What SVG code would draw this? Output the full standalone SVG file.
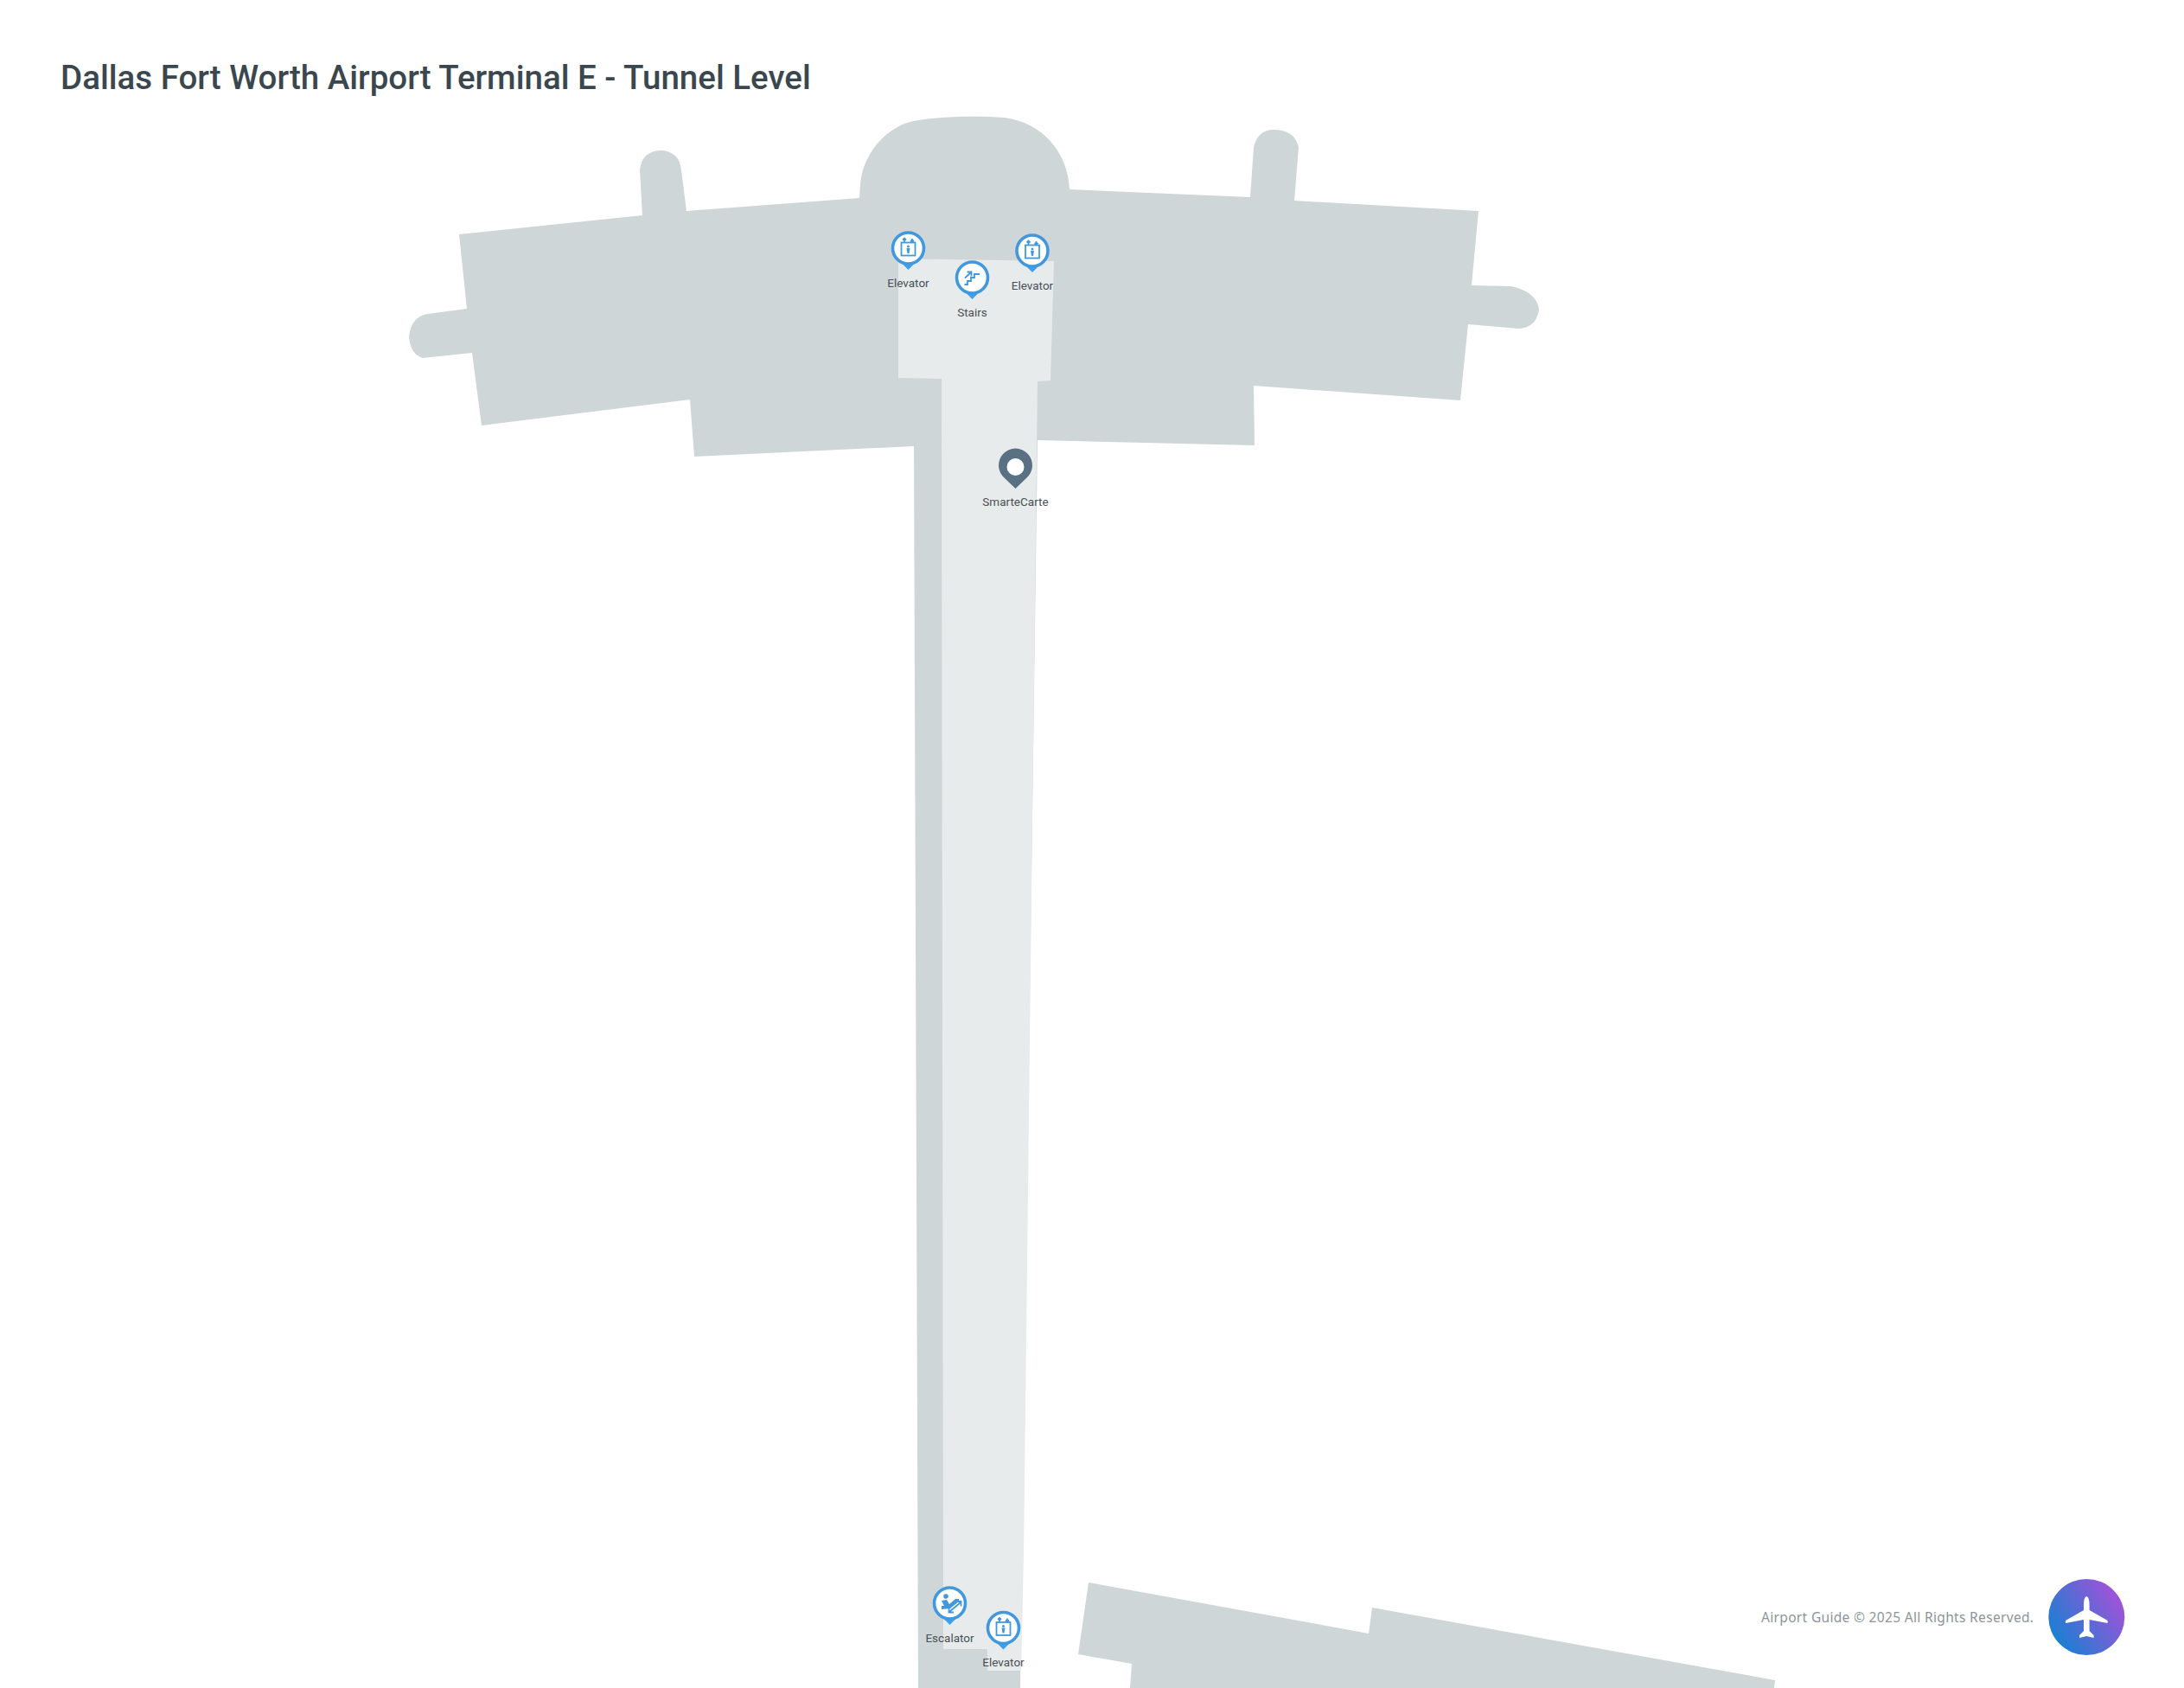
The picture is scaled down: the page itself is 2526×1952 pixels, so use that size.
<svg xmlns="http://www.w3.org/2000/svg" width="2526" height="1952" viewBox="0 0 2526 1952">
<style>
.dark{fill:#cfd6d8}
.light{fill:#e7ebec}
.lbl{font-family:Roboto,"Liberation Sans",sans-serif;font-size:13.5px;fill:#4a5054;text-anchor:middle}
.ico{fill:none;stroke:#4298dc;stroke-width:1.8}
.icf{fill:#4298dc}
</style>
<defs>
<linearGradient id="logoGrad" x1="0.1" y1="0.8" x2="0.95" y2="0.25">
<stop offset="0" stop-color="#1a80d2"/><stop offset="1" stop-color="#a152d8"/>
</linearGradient>
<g id="pin">
<path d="M-8 17L0 25L8 17Z" fill="#3fa0ec"/>
<circle r="18" fill="#fff" stroke="#4298dc" stroke-width="3.6"/>
</g>
<g id="iconElevator">
<use href="#pin"/>
<rect x="-8" y="-6.5" width="16" height="15" class="ico"/>
<circle cx="0" cy="-2" r="1.5" class="icf"/>
<path d="M-2 0H2L1 6H-1Z" class="icf"/>
<path d="M-4.5 -7V-11M-6.5 -9.5L-4.5 -11.5L-2.5 -9.5M4.5 -11V-7M2.5 -9L4.5 -7L6.5 -9" class="ico"/>
</g>
</defs>
<rect width="2526" height="1952" fill="#fff"/>
<g id="floorplan">
<path id="concourse" class="dark" d="M531 271L743 249L740 197Q742 174 766 174Q786 176 788 197L794 244L994 229L995 213C998 175 1028 146 1056 140C1090 134 1130 134 1162 136C1205 142 1235 175 1237 219L1446 228L1450 170Q1455 150 1473 150Q1497 150 1502 170L1497 232L1710 244L1702 330L1747 331C1766 334 1779 345 1780 358Q1777 379 1756 380L1698 375L1689 463L1450 446L1451 515L1200 509L1180 1952L1062 1952L1057 516L803 528L798 462L557 492L546 408L489 414Q475 410 473 390Q475 367 494 363L540 357Z"/>
<path id="gate-south" class="dark" d="M1259 1830L1583 1889L1587 1859L2053 1943L2052 1952L1307 1952L1309 1924L1247 1913Z"/>
<path id="walkway" class="light" d="M1039 299L1219 302L1215 440L1200 441L1184 1800L1181 1932L1142 1932L1142 1907L1091 1907L1089 438L1039 437Z"/>
</g>
<text id="title" x="70" y="103" font-family="Roboto,'Liberation Sans',sans-serif" font-size="38.5" font-weight="500" fill="#3a474e">Dallas Fort Worth Airport Terminal E - Tunnel Level</text>
<g id="elevator-1"><use href="#iconElevator" transform="translate(1050.5 287)"/><text class="lbl" x="1050.5" y="332">Elevator</text></g>
<g id="elevator-2"><use href="#iconElevator" transform="translate(1194 290)"/><text class="lbl" x="1194" y="335">Elevator</text></g>
<g id="stairs-1"><use href="#pin" transform="translate(1124.5 321)"/>
<path class="ico" d="M1115.5 329H1119V325H1123V321H1127V317H1133"/>
<path class="ico" d="M1116 321.5L1123 315M1118.5 314.5H1123.5V319.5"/>
<text class="lbl" x="1124.5" y="366">Stairs</text></g>
<g id="escalator-1"><use href="#pin" transform="translate(1098.5 1854)"/>
<circle cx="1094" cy="1846" r="2.8" class="icf"/>
<path class="icf" d="M1089 1851L1095 1850L1098 1855L1105 1849H1109V1852L1099 1860L1089 1861V1857H1092Z"/>
<path class="ico" d="M1098 1864L1111 1853M1106 1852H1111.5V1857.5M1097.5 1859V1864.5H1103"/>
<text class="lbl" x="1098.5" y="1899">Escalator</text></g>
<g id="elevator-3"><use href="#iconElevator" transform="translate(1160.5 1882.5)"/><text class="lbl" x="1160.5" y="1927">Elevator</text></g>
<g id="smartecarte"><path fill="#5a7184" d="M1174.5 565L1162 553A19.5 19.5 0 1 1 1187 553Z"/><circle cx="1174.5" cy="540" r="10" fill="#fff"/><text class="lbl" x="1174.5" y="585">SmarteCarte</text></g>
<text id="copyright" x="2037" y="1876" font-family="'Noto Sans','Open Sans',sans-serif" font-size="15.5" letter-spacing="0.33" fill="#8c9599">Airport Guide © 2025 All Rights Reserved.</text>
<g id="logo"><circle cx="2413.3" cy="1870" r="44" fill="url(#logoGrad)"/>
<path fill="#fff" d="M2413.3 1846Q2410 1847 2410 1856V1862L2389 1874V1877L2410 1873V1886L2405 1891V1894L2413.3 1892L2421.6 1894V1891L2416.6 1886V1873L2437.6 1877V1874L2416.6 1862V1856Q2416.6 1847 2413.3 1846Z"/></g>
</svg>
